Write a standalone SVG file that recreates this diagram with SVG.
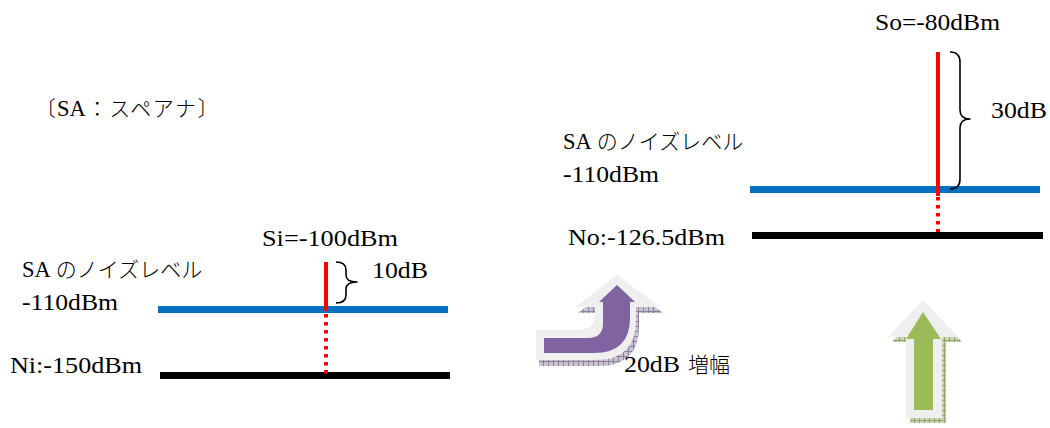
<svg xmlns="http://www.w3.org/2000/svg" width="1050" height="428" viewBox="0 0 1050 428">
<defs>
<style>
.t{font-family:"Liberation Serif",serif;font-size:22.5px;fill:#000}
.j{font-family:"Noto Sans CJK JP",sans-serif;font-weight:300;font-size:21px}
.blue{fill:#0070C0}
.black{fill:#000}
.sig{stroke:#FF0000;stroke-width:4;fill:none}
.dot{stroke:#FF0000;stroke-width:4;fill:none;stroke-dasharray:3.5 4.5}
.brace{stroke:#000;stroke-width:1.6;fill:none;stroke-linejoin:round}
.halo{fill:#EFEFEF}
</style>
<pattern id="hatchP" width="5" height="5" patternUnits="userSpaceOnUse">
<rect width="5" height="5" fill="#C9C2D3"/>
<path d="M0 0.5H5M0.5 0V5" stroke="#8C819C" stroke-width="1"/>
</pattern>
<pattern id="hatchG" width="5" height="5" patternUnits="userSpaceOnUse">
<rect width="5" height="5" fill="#CBD6B4"/>
<path d="M0 0.5H5M0.5 0V5" stroke="#93A56F" stroke-width="1"/>
</pattern>
</defs>
<rect width="1050" height="428" fill="#FFFFFF"/>

<g id="legend">
<text class="t" x="35" y="116"><tspan class="j">〔</tspan><tspan dx="1">SA</tspan><tspan class="j" dx="1" style="letter-spacing:1.5px">：スペアナ〕</tspan></text>
</g>

<g id="input-panel">
<rect class="blue" x="158" y="306" width="290" height="7"/>
<rect class="black" x="160" y="372" width="290" height="7"/>
<text class="t" x="22" y="277">SA<tspan class="j" dx="5">のノイズレベル</tspan></text>
<text class="t" x="22" y="310" textLength="96" lengthAdjust="spacingAndGlyphs">-110dBm</text>
<text class="t" x="10" y="373" textLength="132" lengthAdjust="spacingAndGlyphs">Ni:-150dBm</text>
<text class="t" x="262" y="246" textLength="136" lengthAdjust="spacingAndGlyphs">Si=-100dBm</text>
<text class="t" x="372" y="278" textLength="56" lengthAdjust="spacingAndGlyphs">10dB</text>
</g>

<g id="output-panel">
<rect class="blue" x="750" y="186" width="290" height="7"/>
<rect class="black" x="752" y="232" width="291" height="7"/>
<text class="t" x="563" y="149">SA<tspan class="j" dx="5">のノイズレベル</tspan></text>
<text class="t" x="563" y="182" textLength="96" lengthAdjust="spacingAndGlyphs">-110dBm</text>
<text class="t" x="568" y="245" textLength="157" lengthAdjust="spacingAndGlyphs">No:-126.5dBm</text>
<text class="t" x="875" y="30" textLength="125" lengthAdjust="spacingAndGlyphs">So=-80dBm</text>
<text class="t" x="991" y="118" textLength="56" lengthAdjust="spacingAndGlyphs">30dB</text>
</g>

<g id="amplify-arrow">
<path fill="url(#hatchP)" transform="translate(3,6)" d="M536 330 L578 330 Q595 330 595 313 L595 307 L575 307 L617 275 L660 307 L636 307 L636 320 Q636 360 596 360 L536 360 Z"/>
<path class="halo" d="M536 330 L578 330 Q595 330 595 313 L595 307 L575 307 L617 275 L660 307 L636 307 L636 320 Q636 360 596 360 L536 360 Z"/>
<path fill="#8064A2" d="M544 338 L588 338 Q603 338 603 323 L603 302 L599 302 L617 285 L635 302 L630 302 L630 318 Q630 353 594 353 L544 353 Z"/>
<text class="t" x="624" y="372"><tspan textLength="56" lengthAdjust="spacingAndGlyphs">20dB</tspan><tspan class="j" dx="8">増幅</tspan></text>
</g>

<g id="up-arrow">
<path fill="url(#hatchG)" transform="translate(4,5)" d="M906 418 L906 337 L888 337 L923 300 L958 337 L942 337 L942 418 Z"/>
<path class="halo" d="M906 418 L906 337 L888 337 L923 300 L958 337 L942 337 L942 418 Z"/>
<path fill="#9BBB59" d="M914 410 L914 339 L906 339 L923 312 L941 339 L933 339 L933 410 Z"/>
</g>

<g id="connectors">
<line class="sig" x1="326" y1="262" x2="326" y2="311"/>
<line class="dot" x1="326" y1="314" x2="326" y2="376"/>
<path class="brace" d="M336 262 Q346 262 346 270 L346 275 Q346 282 357 282 Q346 282 346 289 L346 295 Q346 303 336 303"/>
<line class="sig" x1="938" y1="52" x2="938" y2="196"/>
<line class="dot" x1="938" y1="197" x2="938" y2="232"/>
<path class="brace" d="M950 52 Q960 52 960 62 L960 110 Q960 119 970 119 Q960 119 960 128 L960 179 Q960 189 950 189"/>
</g>
</svg>
